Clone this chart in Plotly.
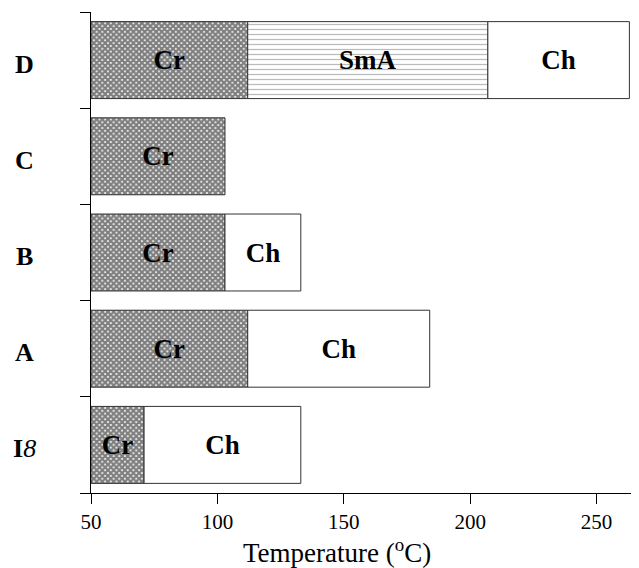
import plotly.graph_objects as go

categories = ["I8", "A", "B", "C", "D"]
category_labels = ["<b>I</b><i>8</i>", "<b>A</b>", "<b>B</b>", "<b>C</b>", "<b>D</b>"]
base_temp = 50
cr_end = [71, 112, 103, 103, 112]
sma_end = [None, None, None, None, 207]
ch_end = [133, 184, 133, None, 263]

FONT = "Liberation Serif, Times New Roman, serif"

def segments(start_list, end_list):
    bases, widths, ys = [], [], []
    for cat, s, e in zip(categories, start_list, end_list):
        if e is None:
            continue
        bases.append(s)
        widths.append(e - s)
        ys.append(cat)
    return bases, widths, ys

cr_start = [base_temp] * len(categories)
sma_start = cr_end
ch_start = [s if s is not None else c for s, c in zip(sma_end, cr_end)]

fig = go.Figure()
line = dict(color="#333333", width=1)

b, w, y = segments(cr_start, cr_end)
fig.add_trace(go.Bar(
    orientation="h", y=y, x=w, base=b, width=0.8,
    marker=dict(color="white", line=line,
                pattern=dict(shape="x", size=4, solidity=0.8, fgcolor="#000000", bgcolor="white")),
    text=["<b>Cr</b>"] * len(y), textposition="inside", insidetextanchor="middle",
    textangle=0, constraintext="none",
    textfont=dict(family=FONT, size=27, color="black"), showlegend=False, hoverinfo="skip"))

b, w, y = segments(sma_start, sma_end)
fig.add_trace(go.Bar(
    orientation="h", y=y, x=w, base=b, width=0.8,
    marker=dict(color="white", line=line,
                pattern=dict(shape="-", size=5, solidity=0.25, fgcolor="#777777", bgcolor="white")),
    text=["<b>SmA</b>"] * len(y), textposition="inside", insidetextanchor="middle",
    textangle=0, constraintext="none",
    textfont=dict(family=FONT, size=27, color="black"), showlegend=False, hoverinfo="skip"))

b, w, y = segments(ch_start, ch_end)
fig.add_trace(go.Bar(
    orientation="h", y=y, x=w, base=b, width=0.8,
    marker=dict(color="white", line=line),
    text=["<b>Ch</b>"] * len(y), textposition="inside", insidetextanchor="middle",
    textangle=0, constraintext="none",
    textfont=dict(family=FONT, size=27, color="black"), showlegend=False, hoverinfo="skip"))

for cat, lab in zip(categories, category_labels):
    fig.add_annotation(x=-0.122, xref="paper", y=cat, yref="y", text=lab,
                       showarrow=False, xanchor="center", yanchor="middle",
                       yshift=-4, font=dict(family=FONT, size=26, color="black"))

fig.add_annotation(x=0.449, xref="paper", y=0, yref="paper", yshift=-39,
                   text="Temperature (<sup>o</sup>C)", showarrow=False,
                   xanchor="center", yanchor="top",
                   font=dict(family=FONT, size=27, color="black"))

# the page body adds an 8px margin, so the figure is sized to fit the window
fig.update_layout(
    width=631, height=560, barmode="overlay",
    margin=dict(l=83, r=0, t=4, b=75),
    plot_bgcolor="white", paper_bgcolor="white",
    font=dict(family=FONT, color="black"),
    xaxis=dict(range=[50, 266.8], dtick=50, tick0=50, ticks="outside", ticklen=10,
               tickcolor="black", showline=True, linecolor="black", linewidth=1,
               showgrid=False, zeroline=False,
               tickfont=dict(family=FONT, size=21, color="black")),
    yaxis=dict(categoryorder="array", categoryarray=categories, range=[-0.5, 4.5],
               tickson="boundaries", ticks="outside", ticklen=10, tickcolor="black",
               showline=True, linecolor="black", linewidth=1, showgrid=False,
               zeroline=False, showticklabels=False),
)

fig.write_html("out.html")
